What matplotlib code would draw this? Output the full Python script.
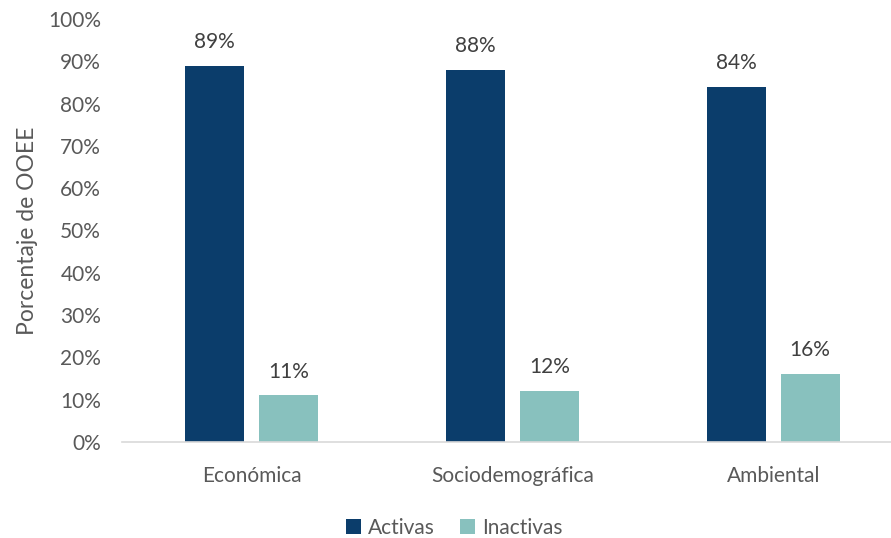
import numpy as np
import matplotlib
matplotlib.use("Agg")
from matplotlib import pyplot as plt

plt.rcParams['font.family'] = ['Lato', 'DejaVu Sans']

categories = ['Económica', 'Sociodemográfica', 'Ambiental']
activas = [89, 88, 84]
inactivas = [11, 12, 16]
series_names = ['Activas', 'Inactivas']

navy = '#0B3D6B'
teal = '#88C1BE'
grey = '#595959'

fig = plt.figure(figsize=(8.91, 5.38), dpi=100)
ax = fig.add_axes([122 / 891, 96 / 538, 769 / 891, 423 / 538])

x = np.arange(len(categories))
w = 0.226
b1 = ax.bar(x - 0.144, activas, w, color=navy, label=series_names[0])
b2 = ax.bar(x + 0.14, inactivas, w, color=teal, label=series_names[1])

for bars, vals in ((b1, activas), (b2, inactivas)):
    for rect, v in zip(bars, vals):
        ax.text(rect.get_x() + rect.get_width() / 2, v + 3.3, f'{v}%',
                ha='center', va='bottom', fontsize=15, color='#404040')

ax.set_xlim(-0.5, 2.45)
ax.set_ylim(0, 100)
ax.set_yticks(np.arange(0, 101, 10))
ax.set_yticklabels([f'{t}%' for t in range(0, 101, 10)])
ax.set_xticks(x)
ax.set_xticklabels(categories)
ax.tick_params(axis='y', length=0, pad=15, labelsize=15, labelcolor=grey)
ax.tick_params(axis='x', length=0, pad=17, labelsize=15, labelcolor=grey)

for s in ['top', 'right', 'left']:
    ax.spines[s].set_visible(False)
ax.spines['bottom'].set_color('#D9D9D9')
ax.spines['bottom'].set_linewidth(1.2)

ax.set_ylabel('Porcentaje de OOEE', fontsize=16.5, color=grey, labelpad=7)

fig.legend(handles=[b1, b2], labels=series_names, loc='lower center',
           bbox_to_anchor=(0.51, -0.035), ncol=2, frameon=False, fontsize=15,
           handlelength=0.7, handleheight=0.7, handletextpad=0.35,
           columnspacing=1.2, labelcolor=grey)

fig.savefig('out.png', dpi=100)
